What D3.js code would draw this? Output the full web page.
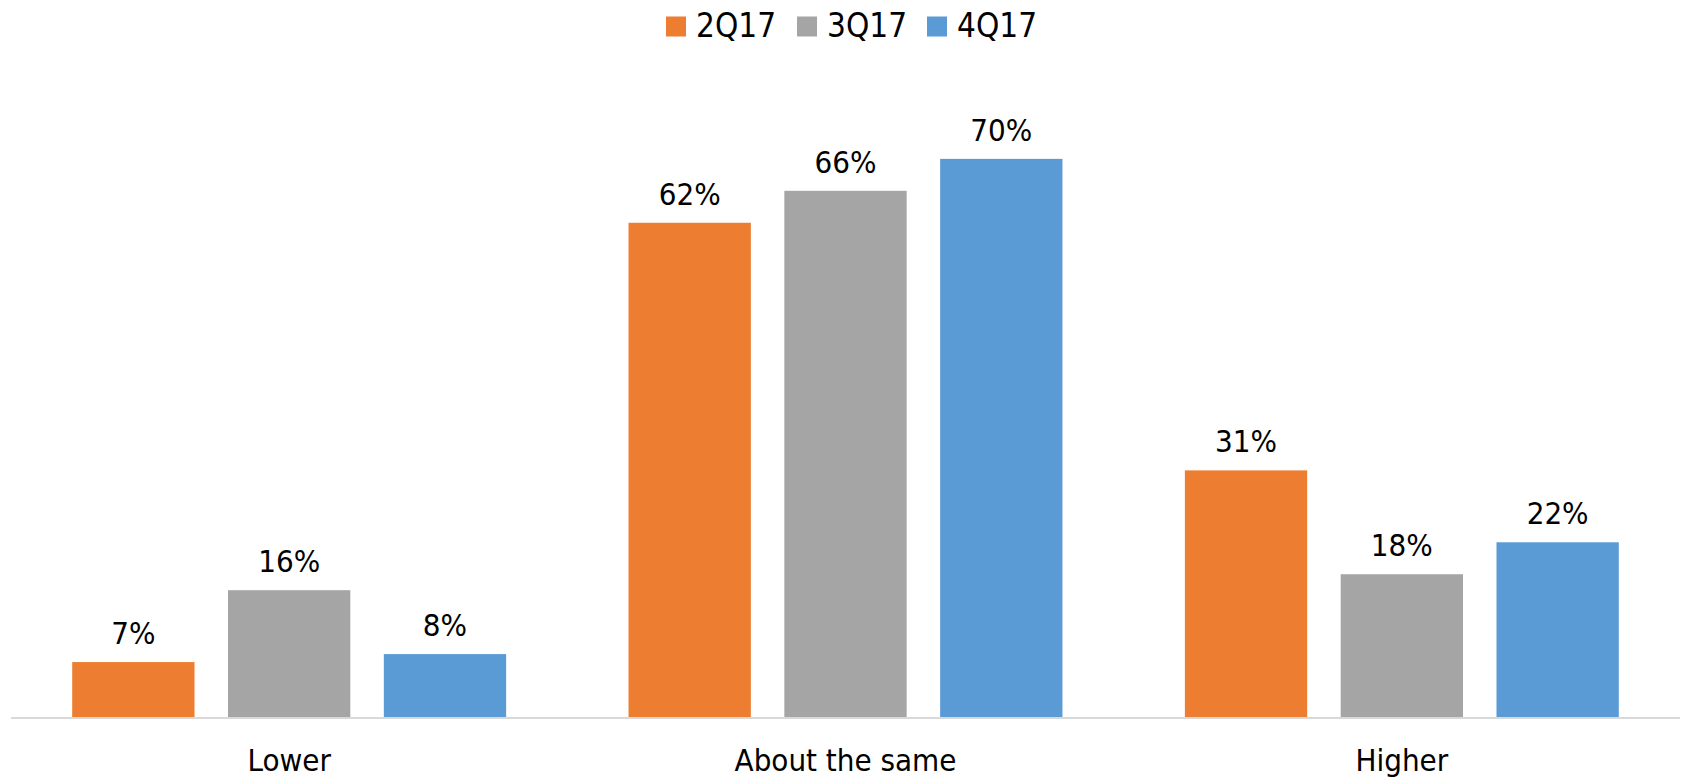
<!DOCTYPE html>
<html>
<head>
<meta charset="utf-8">
<script src="https://cdn.jsdelivr.net/npm/d3@7"></script>
<style>
  html, body { margin: 0; padding: 0; background: #fff; }
  svg text { font-family: "DejaVu Sans Condensed", "DejaVu Sans", sans-serif; font-stretch: condensed; fill: #000; }
</style>
</head>
<body>
<div id="chart"></div>
<script>
const categories = ["Lower", "About the same", "Higher"];
const seriesNames = ["2Q17", "3Q17", "4Q17"];
const seriesColors = ["#ED7D31", "#A5A5A5", "#5B9BD5"];
const values2Q17 = [7, 62, 31];
const values3Q17 = [16, 66, 18];
const values4Q17 = [8, 70, 22];
const yDomain = [0, 80];

const seriesValues = [values2Q17, values3Q17, values4Q17];

const W = 1685, H = 779;
const plot = { left: 11, right: 1680, top: 79, bottom: 718 };

const svg = d3.select("#chart").append("svg")
  .attr("width", W)
  .attr("height", H);

const x0 = d3.scaleBand().domain(categories).range([plot.left, plot.right]).padding(0);
const bw = x0.bandwidth();
const x1 = d3.scaleBand().domain(seriesNames).range([bw * 0.11, bw * 0.89]).paddingInner(0.215).paddingOuter(0);
const y = d3.scaleLinear().domain(yDomain).range([plot.bottom, plot.top]);

// flatten into rows
const rows = [];
categories.forEach((c, ci) => {
  seriesNames.forEach((s, si) => {
    rows.push({ cat: c, series: s, value: seriesValues[si][ci], color: seriesColors[si] });
  });
});

// Bars
svg.append("g").selectAll("rect")
  .data(rows)
  .join("rect")
  .attr("x", d => x0(d.cat) + x1(d.series))
  .attr("y", d => y(d.value))
  .attr("width", x1.bandwidth())
  .attr("height", d => y(0) - y(d.value))
  .attr("fill", d => d.color);

// Value labels
svg.append("g").selectAll("text")
  .data(rows)
  .join("text")
  .attr("x", d => x0(d.cat) + x1(d.series) + x1.bandwidth() / 2)
  .attr("y", d => y(d.value) - 18)
  .attr("text-anchor", "middle")
  .style("font-size", "31px")
  .text(d => d.value + "%");

// Category axis
const xAxis = svg.append("g")
  .attr("transform", `translate(0,${plot.bottom})`)
  .call(d3.axisBottom(x0).tickSize(0).tickPadding(0));
xAxis.select(".domain").attr("stroke", "#d9d9d9").attr("stroke-width", 2)
  .attr("d", `M${plot.left},0H${plot.right}`);
xAxis.selectAll("text")
  .attr("dy", null)
  .attr("y", 53)
  .style("font-size", "31px")
  .style("font-family", null)
  .attr("fill", "#000");

// Legend
const legendX = [666, 797, 927];
const legend = svg.append("g");
seriesNames.forEach((s, i) => {
  const g = legend.append("g").attr("transform", `translate(${legendX[i]},0)`);
  g.append("rect").attr("x", 0).attr("y", 16.5).attr("width", 20).attr("height", 20).attr("fill", seriesColors[i]);
  g.append("text").attr("x", 30).attr("y", 36.5).style("font-size", "33px").text(s);
});
</script>
</body>
</html>
